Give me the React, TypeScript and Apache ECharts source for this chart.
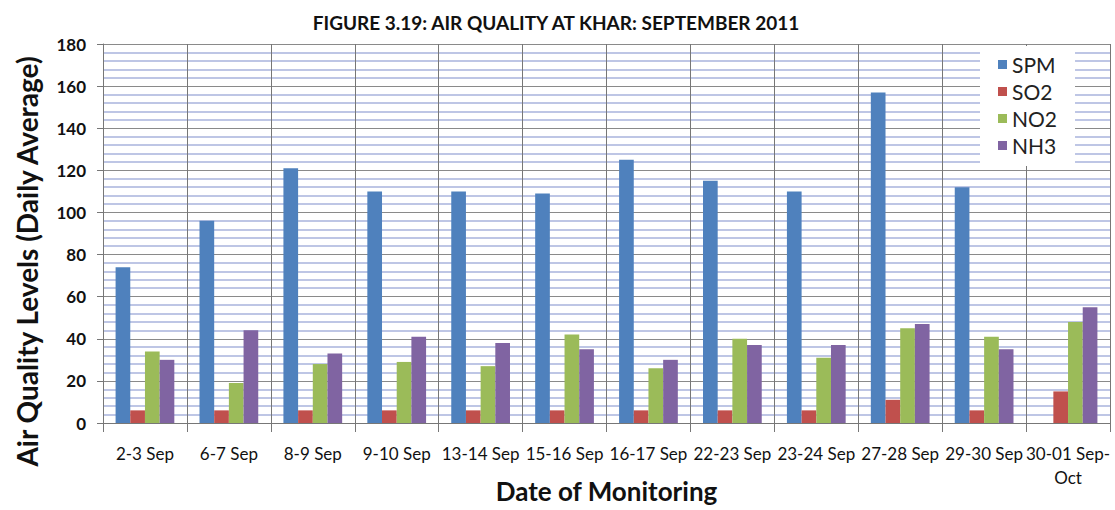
import React, { useEffect, useRef } from "react";
import * as echarts from "echarts";

const categories = ["2-3 Sep", "6-7 Sep", "8-9 Sep", "9-10 Sep", "13-14 Sep", "15-16 Sep", "16-17 Sep", "22-23 Sep", "23-24 Sep", "27-28 Sep", "29-30 Sep", "30-01 Sep-\nOct"];
const spm = [74, 96, 121, 110, 110, 109, 125, 115, 110, 157, 112, null];
const so2 = [6, 6, 6, 6, 6, 6, 6, 6, 6, 11, 6, 15];
const no2 = [34, 19, 28, 29, 27, 42, 26, 40, 31, 45, 41, 48];
const nh3 = [30, 44, 33, 41, 38, 35, 30, 37, 37, 47, 35, 55];
const seriesNames = ["SPM", "SO2", "NO2", "NH3"];
const colors = ["#4F81BD", "#C0504D", "#9BBB59", "#8064A2"];

export default function App() {
  const ref = useRef<HTMLDivElement>(null);
  useEffect(() => {
    if (!ref.current) return;
    const chart = echarts.init(ref.current, undefined, { renderer: "svg" });
    const font = "Lato, 'Open Sans', sans-serif";
    const data = [spm, so2, no2, nh3];
    chart.setOption({
      animation: false,
      backgroundColor: "#fff",
      title: {
        text: "FIGURE 3.19: AIR QUALITY AT KHAR: SEPTEMBER 2011",
        left: 551,
        textAlign: "center",
        top: 8,
        textStyle: { fontFamily: font, fontSize: 19, fontWeight: "bold", color: "#111" },
      },
      legend: {
        orient: "vertical",
        left: 980,
        top: 46,
        width: 90,
        padding: [8, 18, 10, 18],
        backgroundColor: "#fff",
        itemWidth: 9,
        itemHeight: 9,
        itemGap: 6,
        icon: "rect",
        textStyle: { fontFamily: font, fontSize: 21, color: "#222" },
        data: seriesNames,
      },
      grid: { left: 103, right: 5, top: 44, bottom: 87, outerBoundsMode: "none" },
      xAxis: {
        type: "category",
        data: categories,
        name: "Date of Monitoring",
        nameLocation: "middle",
        nameGap: 55,
        nameMoveOverlap: false,
        nameTextStyle: { fontFamily: font, fontSize: 26, fontWeight: "bold", color: "#111" },
        axisLine: { lineStyle: { color: "#777" } },
        axisTick: { show: true, length: 9, lineStyle: { color: "#777" } },
        axisLabel: { fontFamily: font, fontSize: 17, color: "#111", margin: 18, interval: 0, lineHeight: 24 },
        splitLine: { show: true, lineStyle: { color: "#777", width: 1 } },
      },
      yAxis: {
        type: "value",
        min: 0,
        max: 180,
        interval: 20,
        name: "Air Quality Levels (Daily Average)",
        nameLocation: "middle",
        nameGap: 62,
        nameMoveOverlap: false,
        nameTextStyle: { fontFamily: font, fontSize: 28, lineHeight: 28, fontWeight: "bold", color: "#111", padding: [0, 56, 0, 0] },
        axisLine: { show: true, lineStyle: { color: "#777" } },
        axisTick: { show: true, length: 6, lineStyle: { color: "#777" } },
        axisLabel: { fontFamily: font, fontSize: 17, fontWeight: "bold", color: "#111", margin: 17 },
        splitLine: { show: true, lineStyle: { color: "#8a8a8a", width: 1.2 } },
        minorTick: { show: false, splitNumber: 5 },
        minorSplitLine: { show: true, lineStyle: { color: "#a9b3dd", width: 1.5 } },
      },
      series: seriesNames.map((n, i) => ({
        name: n,
        type: "bar",
        data: data[i],
        barGap: "0%",
        barCategoryGap: "30%",
        itemStyle: { color: colors[i] },
      })),
    });
    return () => chart.dispose();
  }, []);
  return <div ref={ref} style={{ width: 1115, height: 510, position: "absolute", left: 0, top: 0 }} />;
}
